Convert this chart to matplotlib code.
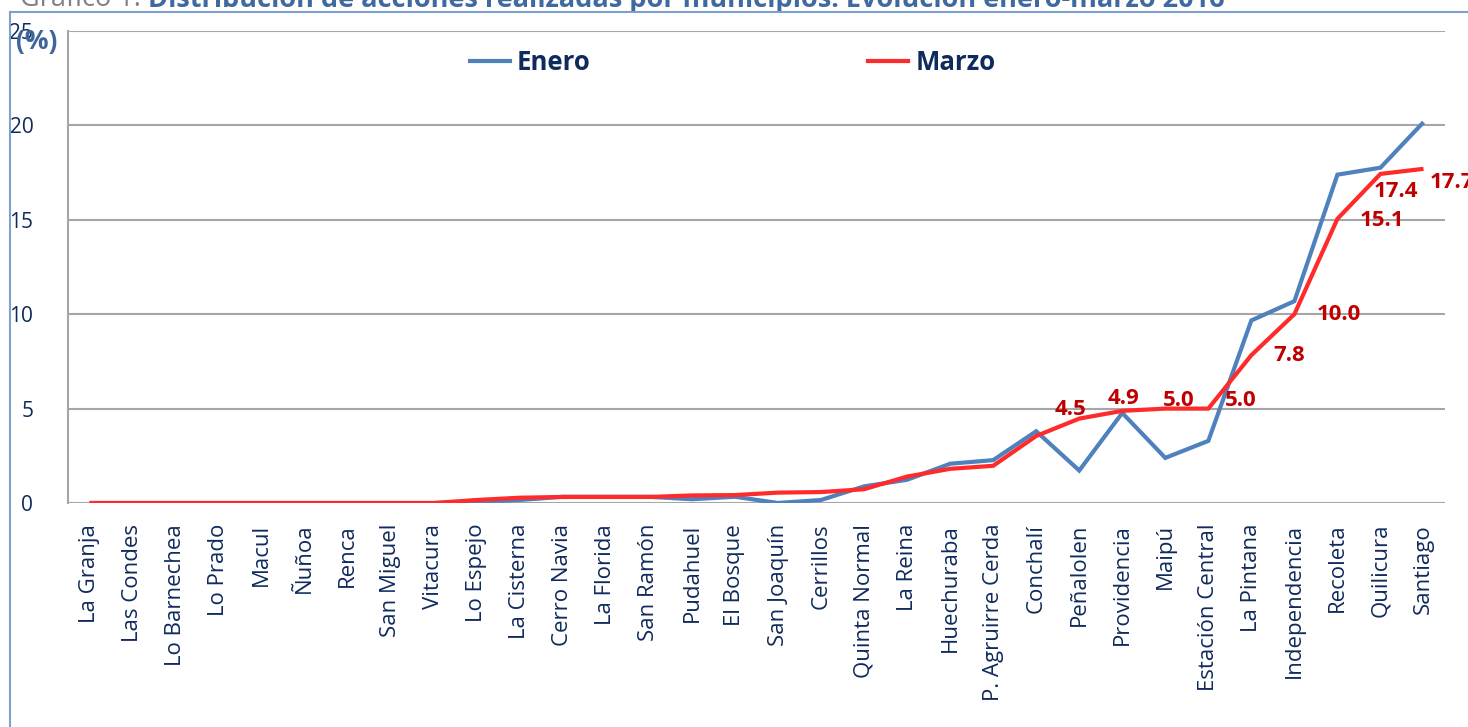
import matplotlib
matplotlib.use("Agg")
import matplotlib.pyplot as plt
from matplotlib.lines import Line2D

categories = ["La Granja", "Las Condes", "Lo Barnechea", "Lo Prado", "Macul", "Ñuñoa",
              "Renca", "San Miguel", "Vitacura", "Lo Espejo", "La Cisterna", "Cerro Navia",
              "La Florida", "San Ramón", "Pudahuel", "El Bosque", "San Joaquín", "Cerrillos",
              "Quinta Normal", "La Reina", "Huechuraba", "P. Agruirre Cerda", "Conchalí",
              "Peñalolen", "Providencia", "Maipú", "Estación Central", "La Pintana",
              "Independencia", "Recoleta", "Quilicura", "Santiago"]

enero = [0, 0, 0, 0, 0, 0, 0, 0, 0, 0.05, 0.16, 0.33, 0.33, 0.33, 0.2, 0.33, 0.0, 0.16,
         0.88, 1.23, 2.08, 2.27, 3.8, 1.72, 4.77, 2.39, 3.29, 9.67, 10.69, 17.39, 17.76, 20.17]

marzo = [0, 0, 0, 0, 0, 0, 0, 0, 0, 0.16, 0.28, 0.32, 0.32, 0.32, 0.4, 0.42, 0.55, 0.58,
         0.73, 1.4, 1.81, 1.97, 3.55, 4.47, 4.88, 5.0, 5.0, 7.83, 10.0, 15.05, 17.43, 17.7]

label_idx = [23, 24, 25, 26, 27, 28, 29, 30, 31]
label_txt = ["4.5", "4.9", "5.0", "5.0", "7.8", "10.0", "15.1", "17.4", "17.7"]
label_off = [(-9, 9), (1, 12), (13, 8), (32, 8), (38, 0), (44, 0), (45, -2), (15, -18), (28, -14)]

yticks = [0, 5, 10, 15, 20, 25]

W, H = 1468, 727
fig = plt.figure(figsize=(W / 100, H / 100), dpi=100)
ax = fig.add_axes([68 / W, 1 - 503 / H, (1445 - 68) / W, (503 - 31) / H])

navy = "#0F2A5C"
blue = "#4F81BD"
red = "#FF2B2B"
lblred = "#C00000"
grid = "#A6A6A6"

x = list(range(len(categories)))
ax.plot(x, enero, color=blue, lw=3.0, solid_joinstyle="miter", solid_capstyle="butt", zorder=3)
ax.plot(x, marzo, color=red, lw=3.0, solid_joinstyle="miter", solid_capstyle="butt", zorder=4)

for i, t, off in zip(label_idx, label_txt, label_off):
    ax.annotate(t, xy=(i, marzo[i]), xytext=off, textcoords="offset pixels",
                ha="center", va="center", color=lblred, fontsize=16,
                fontweight="bold", family="Open Sans", annotation_clip=False, zorder=5)

ax.set_xlim(-0.5, len(categories) - 0.5)
ax.set_ylim(0, 25)
ax.set_yticks(yticks)
ax.set_yticklabels([str(v) for v in yticks], family="Open Sans", fontsize=15, color=navy)
ax.set_xticks(x)
ax.set_xticklabels(categories, rotation=90, family="Open Sans", fontsize=16, color=navy,
                   va="top", ha="center")
ax.tick_params(axis="both", length=0)
ax.tick_params(axis="y", pad=25)
ax.tick_params(axis="x", pad=15)
ax.yaxis.grid(True, color=grid, lw=1.5)
ax.set_axisbelow(True)
for s in ["top", "right", "bottom"]:
    ax.spines[s].set_visible(False)
ax.spines["left"].set_color(grid)
ax.spines["left"].set_linewidth(1.5)

handles = [Line2D([0], [0], color=blue, lw=3.0), Line2D([0], [0], color=red, lw=3.0)]
leg = fig.legend(handles, ["Enero", "Marzo"], ncol=2, frameon=False,
                 loc="center left", bbox_to_anchor=(470 / W, 1 - 62 / H),
                 bbox_transform=fig.transFigure, borderpad=0, borderaxespad=0,
                 handlelength=1.56, handletextpad=0.27, columnspacing=10.8,
                 prop={"family": "Open Sans", "weight": "bold", "size": 18.5})
for t in leg.get_texts():
    t.set_color(navy)

fig.text(16 / W, 1 - 42 / H, "(%)", color="#3E6598", fontsize=19, fontweight="bold",
         family="Open Sans", ha="left", va="center", zorder=1)

# outer frame
frame = "#7FA1CF"
fig.add_artist(Line2D([10 / W, 1], [1 - 12 / H, 1 - 12 / H], color=frame, lw=1.5,
                      transform=fig.transFigure))
fig.add_artist(Line2D([10 / W, 10 / W], [0, 1 - 12 / H], color=frame, lw=1.5,
                      transform=fig.transFigure))

t1 = fig.text(20 / W, 1 - 6 / H, "Gráfico 1: ", color="#808080", fontsize=19.5,
              family="Open Sans", ha="left", va="baseline")
ax.annotate("Distribución de acciones realizadas por municipios. Evolución enero-marzo 2016",
            xy=(1, 0), xycoords=t1, ha="left", va="bottom", color="#3F6AA0",
            fontsize=19.5, fontweight="bold", family="Open Sans", annotation_clip=False)

fig.savefig("out.png", dpi=100)
